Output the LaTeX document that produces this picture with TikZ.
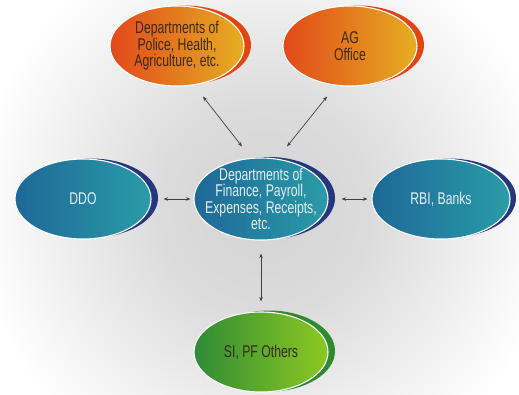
\documentclass[tikz,border=0pt]{standalone}
\usepackage{fontspec}
\setmainfont[FakeStretch=0.72]{Liberation Sans}
\usetikzlibrary{shapes.geometric,arrows.meta,calc}
\definecolor{orL}{HTML}{E2491A}
\definecolor{orR}{HTML}{E6AE22}
\definecolor{orC}{HTML}{E24412}
\definecolor{blL}{HTML}{1E6897}
\definecolor{blR}{HTML}{2A9CA8}
\definecolor{blC}{HTML}{25387E}
\definecolor{grL}{HTML}{2E8B36}
\definecolor{grR}{HTML}{8DC921}
\definecolor{grC}{HTML}{2F8A33}
\definecolor{txD}{HTML}{3A2A18}
\definecolor{txL}{HTML}{E6EEF5}
\definecolor{arrC}{HTML}{404040}
\pgfdeclareradialshading{bgshade}{\pgfpoint{0bp}{0bp}}{color(0bp)=(black!17); color(9bp)=(black!14); color(25bp)=(white); color(50bp)=(white)}
\tikzset{
  bubble/.style={ellipse, draw=white, line width=1.1pt, inner sep=0pt,
    minimum width=134pt, minimum height=80pt},
  btext/.style={align=center, inner sep=0pt, font=\fontsize{17}{16.5}\selectfont},
  orange bubble/.style={bubble, left color=orL, right color=orR},
  blue bubble/.style={bubble, left color=blL, right color=blR},
  green bubble/.style={bubble, left color=grL, right color=grR},
  dark text/.style={btext, text=txD},
  light text/.style={btext, text=txL},
  arr/.style={arrC, line width=0.7pt, {Stealth[length=4.5pt,width=3.5pt]}-{Stealth[length=4.5pt,width=3.5pt]}}
}
\begin{document}
\begin{tikzpicture}[x=1pt,y=-1pt]
\useasboundingbox (0,0) rectangle (519,394);
\begin{scope}
  \clip (0,0) rectangle (519,394);
  \fill[white] (0,0) rectangle (519,394);
  \shade[shading=bgshade] (265,210) circle (290);
\end{scope}
% crescents
\fill[orC] (185,45) ellipse [x radius=66, y radius=39.5];
\fill[orC] (358,45) ellipse [x radius=66, y radius=39.5];
\fill[blC] (91,198) ellipse [x radius=67, y radius=39.5];
\fill[blC] (269,198) ellipse [x radius=66, y radius=41];
\fill[blC] (449,198) ellipse [x radius=67, y radius=39.5];
\fill[grC] (269,351) ellipse [x radius=66, y radius=40.5];
% main bubbles
\node[orange bubble, label={[dark text]center:{Departments of\\Police, Health,\\Agriculture, etc.}}] (dept) at (177,46) {};
\node[orange bubble, label={[dark text]center:{AG\\Office}}] (ag) at (350,46) {};
\node[blue bubble, minimum width=136pt, label={[light text]center:DDO}] (ddo) at (83,199) {};
\node[blue bubble, minimum height=82pt, label={[light text]center:{Departments of\\Finance, Payroll,\\Expenses, Receipts,\\etc.}}] (cen) at (261,199) {};
\node[blue bubble, minimum width=138pt, label={[light text]center:{RBI, Banks}}] (rbi) at (441,199) {};
\node[green bubble, label={[dark text]center:{SI, PF Others}}] (si) at (261,352) {};
% connectors
\draw[arr, shorten <=12pt, shorten >=3pt] (ddo.east) -- (cen.west);
\draw[arr, shorten <=13pt, shorten >=4pt] (cen.east) -- (rbi.west);
\draw[arr, shorten <=13pt, shorten >=10pt] (cen.south) -- (si.north);
\coordinate (d1) at ($(dept.south)+(26,10)$);
\coordinate (c1) at ($(cen.north)+(-19,-11)$);
\coordinate (a1) at ($(ag.south)+(-23,10)$);
\coordinate (c2) at ($(cen.north)+(26,-11)$);
\draw[arr] (d1) -- (c1);
\draw[arr] (a1) -- (c2);
\end{tikzpicture}
\end{document}
